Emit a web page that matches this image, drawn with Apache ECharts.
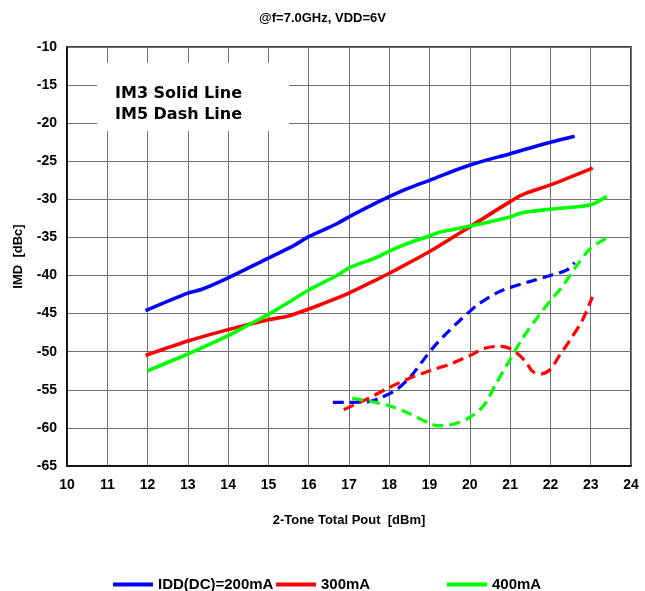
<!DOCTYPE html>
<html>
<head>
<meta charset="utf-8">
<script src="https://cdn.jsdelivr.net/npm/echarts@6/dist/echarts.min.js"></script>
<style>
  html, body { margin: 0; padding: 0; background: #fff; }
  #chart { width: 645px; height: 591px; }
</style>
</head>
<body>
<div id="chart"></div>
<script>
// IMD vs 2-tone total output power, 7.0 GHz, VDD = 6 V
const legendNames = ['IDD(DC)=200mA', '300mA', '400mA'];
const colors = ['#0000FF', '#FF0000', '#00FF00'];

// IM3 (solid)
const im3_200_x = [11.95, 13, 13.35, 14, 15, 15.65, 16, 16.7, 17, 17.7, 18, 18.45, 19, 20, 21, 22, 22.6];
const im3_200_y = [-44.6, -42.3, -41.8, -40.3, -37.7, -36.0, -34.9, -33.2, -32.3, -30.4, -29.65, -28.6, -27.5, -25.5, -24.0, -22.5, -21.7];

const im3_300_x = [11.95, 13, 14, 15, 15.5, 16, 16.25, 17, 17.7, 18, 19, 20, 21, 21.3, 22, 23.05];
const im3_300_y = [-50.5, -48.6, -47.1, -45.8, -45.3, -44.4, -43.9, -42.3, -40.5, -39.7, -36.85, -33.6, -30.3, -29.4, -28.1, -25.9];

const im3_400_x = [12, 13, 14, 14.6, 15, 15.57, 16, 16.7, 17, 17.7, 18, 18.45, 19, 19.26, 20, 21, 21.3, 22, 23, 23.4];
const im3_400_y = [-52.5, -50.3, -47.9, -46.2, -45.1, -43.3, -41.9, -40.0, -39.0, -37.6, -36.8, -35.8, -34.8, -34.3, -33.5, -32.3, -31.75, -31.3, -30.7, -29.6];

// IM5 (dashed)
const im5_200_x = [16.6, 17.45, 17.8, 18.2, 18.54, 18.83, 19.1, 19.4, 19.77, 20.0, 20.2, 20.74, 21.48, 22.06, 22.4, 22.6];
const im5_200_y = [-56.65, -56.6, -56.0, -54.9, -53.2, -51.2, -49.4, -47.7, -45.8, -44.7, -43.8, -42.1, -40.8, -39.9, -39.3, -38.3];

const im5_300_x = [16.87, 17.45, 18, 18.45, 19, 19.52, 20, 20.34, 20.67, 20.9, 21.15, 21.4, 21.56, 21.77, 22, 22.2, 22.47, 22.8, 23.04];
const im5_300_y = [-57.6, -56.2, -54.7, -53.6, -52.5, -51.6, -50.5, -49.6, -49.3, -49.4, -50.1, -51.4, -52.6, -52.9, -52.3, -50.7, -48.6, -45.8, -42.8];

const im5_400_x = [17.08, 17.6, 18, 18.45, 19, 19.2, 19.52, 20, 20.34, 20.67, 21, 21.3, 21.65, 22, 22.3, 22.64, 23, 23.46];
const im5_400_y = [-56.1, -56.6, -57.1, -58.0, -59.4, -59.7, -59.6, -58.6, -57.1, -54.0, -51.0, -48.3, -45.7, -43.3, -41.4, -38.8, -36.4, -34.9];

const pair = (xs, ys) => xs.map((x, i) => [x, ys[i]]);

const solidSets = [[im3_200_x, im3_200_y], [im3_300_x, im3_300_y], [im3_400_x, im3_400_y]];
const dashSets = [[im5_200_x, im5_200_y], [im5_300_x, im5_300_y], [im5_400_x, im5_400_y]];

const font = '"Liberation Sans", Arial, sans-serif';

const series = [];
solidSets.forEach((s, i) => {
  series.push({
    name: legendNames[i], type: 'line', data: pair(s[0], s[1]),
    smooth: 0.3, showSymbol: false, z: 3,
    lineStyle: { color: colors[i], width: 3.6, type: 'solid' },
    itemStyle: { color: colors[i] }
  });
});
dashSets.forEach((s, i) => {
  series.push({
    name: 'IM5 ' + legendNames[i], type: 'line', data: pair(s[0], s[1]),
    smooth: 0.3, showSymbol: false, z: 3,
    lineStyle: { color: colors[i], width: 3.2, type: [11, 6] },
    itemStyle: { color: colors[i] }
  });
});

const legendLeft = [108, 271, 442];
const legends = legendNames.map((n, i) => ({
  data: [n], left: legendLeft[i], top: 572,
  icon: 'rect', itemWidth: 40, itemHeight: 4, selectedMode: false,
  textStyle: { fontFamily: font, fontWeight: 'bold', fontSize: 15, color: '#000' }
}));

const chart = echarts.init(document.getElementById('chart'), null, { renderer: 'canvas' });
chart.setOption({
  animation: false,
  backgroundColor: '#fff',
  title: {
    text: '@f=7.0GHz, VDD=6V', left: 'center', top: 7,
    textStyle: { fontFamily: font, fontWeight: 'bold', fontSize: 13, color: '#000' }
  },
  legend: legends,
  grid: { left: 67, right: 14, top: 47, bottom: 125, show: true, borderColor: '#000', borderWidth: 1.5, backgroundColor: 'transparent' },
  xAxis: {
    type: 'value', min: 10, max: 24, interval: 1,
    name: '2-Tone Total Pout  [dBm]', nameLocation: 'middle', nameGap: 48,
    nameTextStyle: { fontFamily: font, fontWeight: 'bold', fontSize: 13, color: '#000' },
    axisLine: { lineStyle: { color: '#000', width: 1.5 } },
    axisTick: { show: false },
    axisLabel: { fontFamily: font, fontWeight: 'bold', fontSize: 14, color: '#000', margin: 12 },
    splitLine: { lineStyle: { color: '#707070', width: 1 } }
  },
  yAxis: {
    type: 'value', min: -65, max: -10, interval: 5,
    name: 'IMD  [dBc]', nameLocation: 'middle', nameGap: 42,
    nameTextStyle: { fontFamily: font, fontWeight: 'bold', fontSize: 13, color: '#000' },
    axisLine: { lineStyle: { color: '#000', width: 1.5 } },
    axisTick: { show: false },
    axisLabel: { fontFamily: font, fontWeight: 'bold', fontSize: 14, color: '#000', margin: 10 },
    splitLine: { lineStyle: { color: '#707070', width: 1 } }
  },
  graphic: [
    { type: 'rect', shape: { x: 97, y: 63, width: 192, height: 68 }, style: { fill: '#fff' }, z: 1 },
    { type: 'text', left: 115, top: 83, z: 2,
      style: { text: 'IM3 Solid Line\nIM5 Dash Line', fill: '#000', lineHeight: 21,
               font: 'bold 16px "DejaVu Sans", Verdana, sans-serif' } }
  ],
  series: series
});
</script>
</body>
</html>
